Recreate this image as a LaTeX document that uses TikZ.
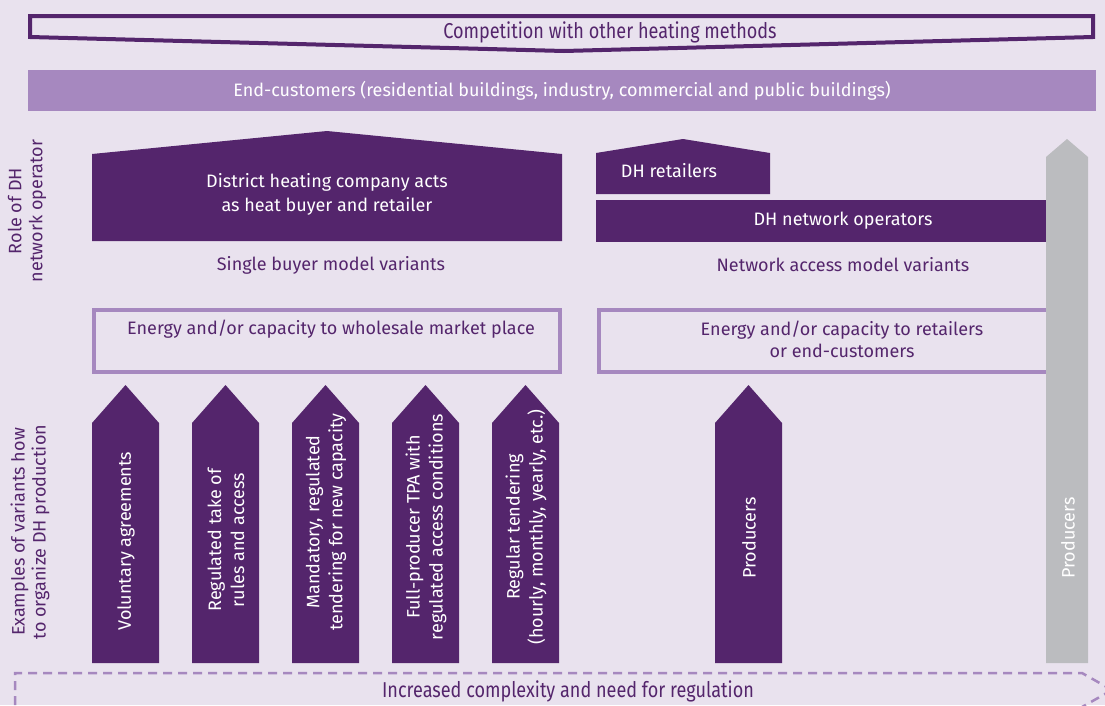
\documentclass[tikz,border=0pt]{standalone}
\usepackage{fontspec}
\setmainfont{Fira Sans}
\newfontfamily\condfont[FakeStretch=0.84]{Fira Sans}
\definecolor{bgc}{HTML}{E9E2EE}
\definecolor{dpur}{HTML}{54256C}
\definecolor{lpur}{HTML}{A688BF}
\definecolor{grayc}{HTML}{BBBCBF}
\tikzset{
  dshape/.style={fill=dpur},
  wtext/.style={text=white, font=\fontsize{18}{24}\selectfont, align=center, inner sep=0pt},
  ptext/.style={text=dpur, font=\fontsize{18}{22}\selectfont, align=center, inner sep=0pt},
  ctext/.style={text=dpur, font=\condfont\fontsize{21.5}{24}\selectfont, inner sep=0pt},
  rtext/.style={text=white, font=\fontsize{18}{23}\selectfont, align=center, inner sep=0pt, rotate=90},
  sidelabel/.style={text=dpur, font=\fontsize{18}{21}\selectfont, align=center, inner sep=0pt, rotate=90},
  ebox/.style={draw=lpur, line width=3.5pt},
}
\begin{document}
\begin{tikzpicture}[x=1pt,y=-1pt]
\useasboundingbox (0,0) rectangle (1105,705);
\fill[bgc] (0,0) rectangle (1105,705);
% top competition arrow
\draw[dpur, line width=4pt, line join=miter] (30,16) -- (1093,16) -- (1093,37) -- (564,51) -- (30,37) -- cycle;
\node[ctext] (comp) at (610,32) {Competition with other heating methods};
% end customers
\fill[lpur] (28,70) rectangle (1096,111);
\node[wtext] (endc) at (562,91) {End-customers (residential buildings, industry, commercial and public buildings)};
% side labels
\node[sidelabel] (role) at (27,211) {Role of DH\\network operator};
\node[sidelabel] (examples) at (30,532) {Examples of variants how\\to organize DH production};
% district heating company
\fill[dshape] (92,241) -- (92,154) -- (327,131) -- (562,154) -- (562,241) -- cycle;
\node[wtext] (dhc) at (327,194) {District heating company acts\\as heat buyer and retailer};
\node[ptext] (single) at (331,265) {Single buyer model variants};
% DH retailers
\fill[dshape] (596,194) -- (596,153) -- (683,139) -- (770,153) -- (770,194) -- cycle;
\node[wtext] (ret) at (669,171) {DH retailers};
% DH network operators
\fill[dshape] (596,200) rectangle (1050,242);
\node[wtext] (netop) at (843,221) {DH network operators};
\node[ptext] (netacc) at (843,265) {Network access model variants};
% energy boxes
\draw[ebox] (94,310) rectangle (560,372);
\node[ptext] (ewhole) at (331,329) {Energy and/or capacity to wholesale market place};
\draw[ebox] (599,310) rectangle (1060,372);
\node[ptext] (eret) at (842,339) {Energy and/or capacity to retailers\\or end-customers};
% gray producers arrow
\fill[grayc] (1046,663) -- (1046,157) -- (1067,139) -- (1088,157) -- (1088,663) -- cycle;
\node[rtext] (gprod) at (1068,538) {Producers};
% small arrows
\foreach \x/\n in {92/a1,192/a2,292/a3,392/a4,492/a5,715/a6} {
  \fill[dshape] (\x,663) -- (\x,423) -- (\x+33.5,385) -- (\x+67,423) -- (\x+67,663) -- cycle;
}
\node[rtext] (t1) at (126,541) {Voluntary agreements};
\node[rtext] (t2) at (226,540) {Regulated take of\\rules and access};
\node[rtext] (t3) at (326,522) {Mandatory, regulated\\tendering for new capacity};
\node[rtext] (t4) at (426,527) {Full-producer TPA with\\regulated access conditions};
\node[rtext] (t5) at (526,527) {Regular tendering\\(hourly, monthly, yearly, etc.)};
\node[rtext] (t6) at (749,538) {Producers};
% bottom dashed arrow
\draw[lpur, line width=2.5pt, dash pattern=on 9pt off 6pt] (15,705) -- (15,673) -- (1082,673) -- (1112,690);
\draw[lpur, line width=2.5pt, dash pattern=on 9pt off 6pt] (1112,690) -- (1082,707);
\node[ctext] (incr) at (568,691) {Increased complexity and need for regulation};
\end{tikzpicture}
\end{document}
